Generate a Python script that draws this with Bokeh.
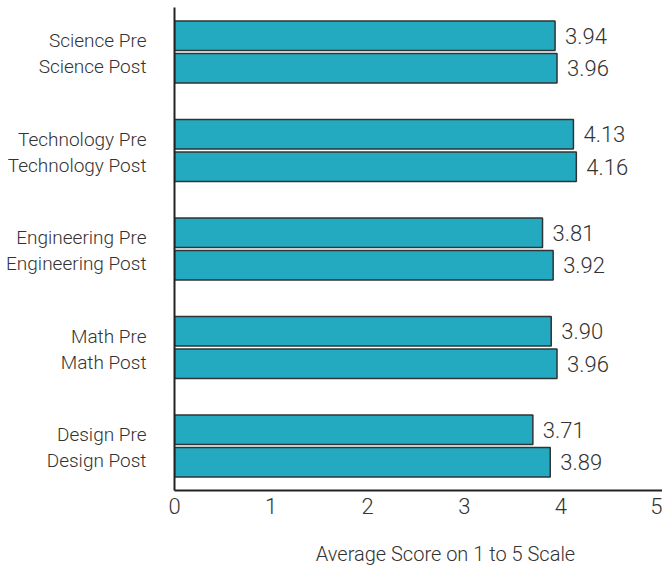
from bokeh.plotting import figure
from bokeh.models import ColumnDataSource, Range1d, FixedTicker, Label
from bokeh.core.properties import value
from bokeh.embed import file_html
from bokeh.resources import INLINE

# Survey subjects, with pre- and post-program average scores (1 to 5 scale)
subjects = ["Science", "Technology", "Engineering", "Math", "Design"]
pre_scores = [3.94, 4.13, 3.81, 3.90, 3.71]
post_scores = [3.96, 4.16, 3.92, 3.96, 3.89]
x_ticks = [0, 1, 2, 3, 4, 5]
x_title = "Average Score on 1 to 5 Scale"

FONT = "Roboto Light"
TEXT = "#333333"
FILL = "#23a9c0"

# vertical layout: one unit per subject, two bars per subject
pair_offset = 0.1645
bar_height = 0.30

group_pos = list(range(len(subjects)))
pre_y = [g - pair_offset for g in group_pos]
post_y = [g + pair_offset for g in group_pos]

bars = ColumnDataSource(dict(
    y=pre_y + post_y,
    score=pre_scores + post_scores,
    label=[f"{v:.2f}" for v in pre_scores + post_scores],
))

p = figure(
    width=662, height=566,
    x_range=Range1d(0, 5.052),
    y_range=Range1d(4.452, -0.452),
    output_backend="svg", toolbar_location=None,
    min_border_left=174, min_border_right=0, min_border_top=7, min_border_bottom=76,
)
p.outline_line_color = None
p.grid.visible = False
p.background_fill_color = "white"
p.border_fill_color = "white"

p.hbar(y="y", left=0, right="score", height=bar_height, source=bars,
       fill_color=FILL, line_color="#2f3436", line_width=1.5)

p.text(x="score", y="y", text="label", source=bars, x_offset=10,
       text_baseline="middle", text_align="left",
       text_font=value(FONT), text_font_size="22px", text_color=TEXT)

# category labels on the left axis
label_ticks = []
overrides = {}
for g, name in zip(group_pos, subjects):
    t_pre = round(g - 0.115, 4)
    t_post = round(g + 0.15, 4)
    label_ticks += [t_pre, t_post]
    overrides[t_pre] = f"{name} Pre"
    overrides[t_post] = f"{name} Post"

ya = p.yaxis[0]
ya.ticker = FixedTicker(ticks=label_ticks)
ya.major_label_overrides = overrides
ya.major_tick_line_color = None
ya.minor_tick_line_color = None
ya.major_label_standoff = 22
ya.major_label_text_font = FONT
ya.major_label_text_font_size = "19px"
ya.major_label_text_color = TEXT
ya.axis_line_color = "#222222"
ya.axis_line_width = 2

xa = p.xaxis[0]
xa.ticker = FixedTicker(ticks=x_ticks)
xa.major_tick_line_color = None
xa.minor_tick_line_color = None
xa.major_label_standoff = 1
xa.major_label_text_font = FONT
xa.major_label_text_font_size = "22px"
xa.major_label_text_color = TEXT
xa.axis_line_color = "#222222"
xa.axis_line_width = 2

# axis title in the bottom panel, positioned in screen units
p.add_layout(Label(x=271, y=-13, x_units="screen", y_units="screen",
                   text=x_title, text_align="center", text_baseline="middle",
                   text_font=FONT, text_font_size="20px", text_color=TEXT), "below")

open("out.html", "w").write(file_html(p, INLINE))
